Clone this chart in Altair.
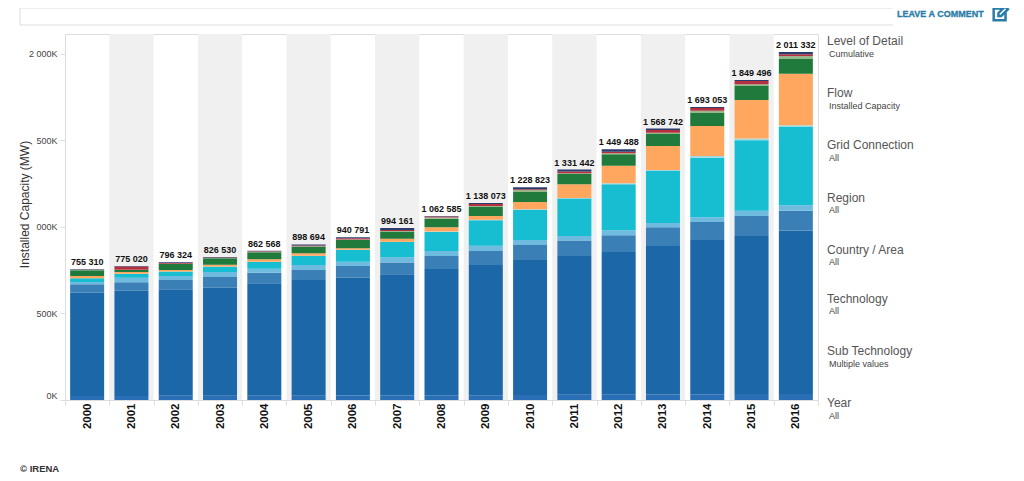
import altair as alt
import pandas as pd

YEARS = [str(y) for y in range(2000, 2017)]
TOTAL_LABELS = ["755 310", "775 020", "796 324", "826 530", "862 568", "898 694", "940 791", "994 161", "1 062 585",
                "1 138 073", "1 228 823", "1 331 442", "1 449 488", "1 568 742", "1 693 053", "1 849 496", "2 011 332"]
TOTALS = [755.31, 775.02, 796.324, 826.53, 862.568, 898.694, 940.791, 994.161, 1062.585,
          1138.073, 1228.823, 1331.442, 1449.488, 1568.742, 1693.053, 1849.496, 2011.332]

# Upper edge of each stacked segment per year, in thousands of MW
BASE = [23, 23, 24, 24, 25, 25, 26, 26, 27, 28, 29, 30, 31, 32, 33, 34, 35]
DARK = [620, 632, 640, 649, 675, 694, 707, 727, 757, 780, 809, 832, 855, 890, 925, 948, 979]
MID = [669, 680, 694, 711, 736, 751, 775, 794, 832, 861, 896, 921, 952, 998, 1029, 1064, 1094]
LIGHT = [682, 707, 717, 740, 759, 780, 799, 825, 861, 892, 925, 948, 981, 1023, 1056, 1094, 1125]
CYAN = [703, 728, 742, 770, 798, 832, 867, 913, 971, 1039, 1098, 1164, 1247, 1324, 1400, 1501, 1580]
PALE = [704, 729, 743, 771, 799, 833, 868, 915, 973, 1041, 1102, 1168, 1253, 1329, 1410, 1511, 1588]
ORANGE = [717, 740, 751, 782, 813, 848, 877, 932, 998, 1064, 1144, 1247, 1354, 1468, 1584, 1734, 1886]
GREEN = [750, 751, 786, 819, 854, 886, 925, 973, 1048, 1116, 1202, 1306, 1420, 1537, 1661, 1817, 1973]
TAN = [751, 753, 788, 821, 857, 889, 928, 977, 1054, 1121, 1214, 1310, 1426, 1545, 1672, 1825, 1988]
RED = [753, 772, 792, 824, 859, 893, 935, 983, 1060, 1133, 1218, 1320, 1435, 1560, 1688, 1844, 1998]

SEGMENTS = [
    ("Base", BASE, "#2a6fb5"), ("Dark", DARK, "#1c67a8"), ("Mid", MID, "#3a7fb6"),
    ("Light", LIGHT, "#6fbadf"), ("Cyan", CYAN, "#17bdd0"), ("Pale", PALE, "#9fd9df"),
    ("Orange", ORANGE, "#ffa75e"), ("Green", GREEN, "#1f7a3c"), ("Tan", TAN, "#9bb58a"),
    ("Red", RED, "#b5303f"), ("Navy", TOTALS, "#2b3c6e"),
]

Y_TICKS = [0, 500, 1000, 1500, 2000]
Y_TICK_LABELS = ["0K", "500K", "000K", "500K", "2 000K"]
FILTERS = [("Level of Detail", "Cumulative"), ("Flow", "Installed Capacity"), ("Grid Connection", "All"),
           ("Region", "All"), ("Country / Area", "All"), ("Technology", "All"),
           ("Sub Technology", "Multiple values"), ("Year", "All")]

# layout, in pixels from the top of the plot area
FILTER_HEAD_Y = [7, 59, 111, 164, 215.5, 264.5, 317, 369]
FILTER_SUB_Y = [20, 71.5, 124, 176, 228, 277, 330, 382]

rows = []
for k, (name, tops, _) in enumerate(SEGMENTS):
    for i, yr in enumerate(YEARS):
        lower = SEGMENTS[k - 1][1][i] if k > 0 else 0
        rows.append({"year": yr, "seg": name, "lo": lower, "hi": tops[i]})
df = pd.DataFrame(rows)
df_tot = pd.DataFrame({"year": YEARS, "total": TOTALS, "label": TOTAL_LABELS})
df_band = pd.DataFrame({"year": YEARS[1::2]})

label_expr = " : ".join(f"datum.value == {v} ? '{t}'" for v, t in zip(Y_TICKS, Y_TICK_LABELS)) + " : ''"

FONT = "Liberation Sans"
x_scale = alt.Scale(domain=YEARS, paddingInner=0, paddingOuter=0)
y_scale = alt.Scale(domain=[0, 2115], nice=False)

x_axis = alt.Axis(title=None, labelAngle=270, labelFont=FONT, labelFontSize=11.5, labelFontWeight="bold",
                  labelColor="#111111", labelPadding=-2, tickBand="extent", tickColor="#dddddd", tickSize=5,
                  domainColor="#dddddd", grid=False)
y_axis = alt.Axis(title="Installed Capacity (MW)", values=Y_TICKS, labelExpr=label_expr, labelFont=FONT,
                  labelFontSize=9, labelColor="#444444", labelFlush=True, tickColor="#dddddd", tickSize=5,
                  domain=False, grid=False, titleFont=FONT, titleFontSize=12, titleFontWeight="normal",
                  titleColor="#333333", titleX=-34, titleY=170, labelPadding=3)

band = alt.Chart(df_band).mark_rect(color="#f0f0f0").encode(
    x=alt.X("year:N", scale=x_scale, axis=x_axis))

bars = alt.Chart(df).mark_bar(size=34).encode(
    x=alt.X("year:N", scale=x_scale, axis=x_axis),
    y=alt.Y("lo:Q", scale=y_scale, axis=y_axis),
    y2="hi:Q",
    color=alt.Color("seg:N", legend=None,
                    scale=alt.Scale(domain=[s[0] for s in SEGMENTS], range=[s[2] for s in SEGMENTS])),
)

totals = alt.Chart(df_tot).mark_text(font=FONT, fontSize=9, fontWeight="bold", color="#111111", dy=-7).encode(
    x=alt.X("year:N", scale=x_scale, axis=x_axis),
    y=alt.Y("total:Q", scale=y_scale, axis=y_axis),
    text="label:N",
)

extras = []
for (head, sub), yh, ys in zip(FILTERS, FILTER_HEAD_Y, FILTER_SUB_Y):
    extras.append(alt.Chart(pd.DataFrame({"t": [head]})).mark_text(
        font=FONT, fontSize=12, color="#555555", align="left", baseline="middle").encode(
        x=alt.value(762), y=alt.value(yh), text="t:N"))
    extras.append(alt.Chart(pd.DataFrame({"t": [sub]})).mark_text(
        font=FONT, fontSize=9, color="#444444", align="left", baseline="middle").encode(
        x=alt.value(764), y=alt.value(ys), text="t:N"))

# search box outline above the plot
box = alt.Chart(pd.DataFrame({"a": [0]}))
extras.append(box.mark_rule(color="#dddddd").encode(x=alt.value(-45), x2=alt.value(828), y=alt.value(-26)))
extras.append(box.mark_rule(color="#dddddd").encode(x=alt.value(-45), x2=alt.value(828), y=alt.value(-9)))
extras.append(box.mark_rule(color="#dddddd").encode(x=alt.value(-45), y=alt.value(-26), y2=alt.value(-9)))

extras.append(alt.Chart(pd.DataFrame({"t": ["LEAVE A COMMENT"]})).mark_text(
    font=FONT, fontSize=9, fontWeight="bold", color="#2a7ca8", align="left", baseline="middle",
    stroke="#2a7ca8", strokeWidth=0.3).encode(
    x=alt.value(832), y=alt.value(-20.5), text="t:N"))
extras.append(box.mark_point(
    shape="M0.3,-0.7 L-0.8,-0.7 L-0.8,0.8 L0.7,0.8 L0.7,-0.2 M-0.2,0.25 L-0.2,-0.1 L0.65,-0.95 L1,-0.6 L0.15,0.25 Z",
    size=250, filled=False, stroke="#2a7ca8", strokeWidth=2.5, opacity=1).encode(x=alt.value(935), y=alt.value(-20)))

extras.append(alt.Chart(pd.DataFrame({"t": ["© IRENA"]})).mark_text(
    font=FONT, fontSize=9.5, fontWeight="bold", color="#333333", align="left", baseline="middle").encode(
    x=alt.value(-45), y=alt.value(435), text="t:N"))

chart = alt.layer(band, bars, totals, *extras).properties(
    width=753, height=366,
    autosize=alt.AutoSizeParams(type="none"),
    padding={"left": 57, "top": 26, "right": 195, "bottom": 73},
    background="white",
).configure_view(stroke="#dddddd")

chart.save("out.html", embed_options={"renderer": "svg", "actions": False})
